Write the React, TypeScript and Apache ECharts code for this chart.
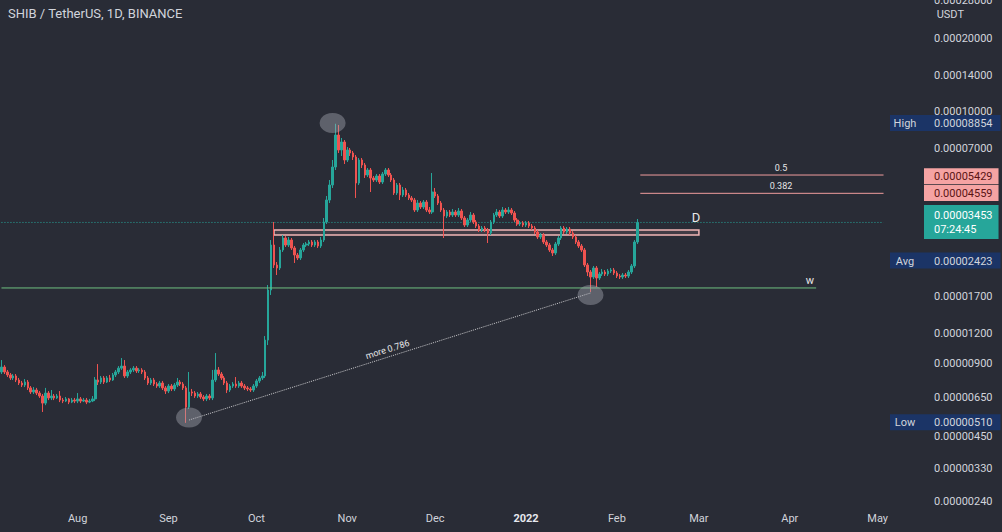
import React, { useEffect, useRef } from "react";
import * as echarts from "echarts";

// Prices below are in units of 1e-8 USDT (e.g. 829 = 0.00000829)
const UNIT = 1e-8;
const START_UTC = Date.UTC(2021, 6, 6);
const DAY_MS = 86400000;
const NUM_DAYS = 302;
const categories: string[] = [];
for (let i = 0; i < NUM_DAYS; i++) {
  categories.push(new Date(START_UTC + i * DAY_MS).toISOString().slice(0, 10));
}
const MONTHS = ["Jan", "Feb", "Mar", "Apr", "May", "Jun", "Jul", "Aug", "Sep", "Oct", "Nov", "Dec"];

const opens = [
  829, 869, 829, 806, 783, 798, 768, 746, 732, 753,
  712, 685, 698, 678, 659, 616, 678, 647, 659, 647,
  659, 634, 628, 641, 622, 634, 628, 641, 628, 634,
  622, 628, 641, 768, 753, 783, 753, 783, 768, 806,
  829, 860, 877, 798, 829, 845, 860, 837, 845, 829,
  783, 746, 768, 739, 725, 746, 712, 691, 725, 705,
  732, 753, 739, 712, 593, 685, 678, 659, 672, 653,
  641, 659, 647, 768, 845, 813, 783, 746, 698, 725,
  739, 725, 746, 725, 712, 705, 698, 725, 761, 783,
  798, 1124, 1812, 2784, 2301, 2236, 2655, 2977, 2784, 2920,
  2706, 2531, 2460, 2655, 2784, 2811, 2865, 2784, 2865, 2758,
  2920, 3467, 4277, 4936, 5861, 7953, 6893, 7440, 6265, 6893,
  6699, 6448, 5031, 6265, 5973, 5430, 5695, 5277, 5177, 5378,
  5079, 5482, 5695, 5430, 5177, 4573, 4936, 4487, 4706, 4487,
  4361, 4277, 3888, 4156, 4001, 4196, 3888, 3815, 4617, 4444,
  4156, 3888, 3672, 3815, 3707, 3815, 3707, 3851, 3603, 3369,
  3534, 3707, 3467, 3338, 3213, 3275, 3213, 3122, 3467, 3707,
  3815, 3672, 3888, 3815, 3888, 3778, 3534, 3402, 3434, 3369,
  3434, 3338, 3275, 3152, 3006, 3063, 2865, 2784, 2655, 2580,
  2811, 2977, 3275, 3152, 3243, 3122, 3006, 2865, 2758, 2655,
  2301, 2152, 2052, 2236, 2032, 2111, 2152, 2111, 2172, 2193,
  2131, 2071, 2052, 2091, 2071, 2152, 2279, 2865,
];

const closes = [
  869, 829, 806, 783, 798, 768, 746, 732, 753, 712,
  685, 698, 678, 659, 616, 678, 647, 659, 647, 659,
  634, 628, 641, 622, 634, 628, 641, 628, 634, 622,
  628, 641, 768, 753, 783, 753, 783, 768, 806, 829,
  860, 877, 798, 829, 845, 860, 837, 845, 829, 783,
  746, 768, 739, 725, 746, 712, 691, 725, 705, 732,
  753, 739, 712, 593, 685, 678, 659, 672, 653, 641,
  659, 647, 768, 845, 813, 783, 746, 698, 725, 739,
  725, 746, 725, 712, 705, 698, 725, 761, 783, 798,
  1124, 1812, 2784, 2301, 2236, 2655, 2977, 2784, 2920, 2706,
  2531, 2460, 2655, 2784, 2811, 2865, 2784, 2865, 2758, 2920,
  3467, 4277, 4936, 5861, 7953, 6893, 7440, 6265, 6893, 6699,
  6448, 5031, 6265, 5973, 5430, 5695, 5277, 5177, 5378, 5079,
  5482, 5695, 5430, 5177, 4573, 4936, 4487, 4706, 4487, 4361,
  4277, 3888, 4156, 4001, 4196, 3888, 3815, 4617, 4444, 4156,
  3888, 3672, 3815, 3707, 3815, 3707, 3851, 3603, 3369, 3534,
  3707, 3467, 3338, 3213, 3275, 3213, 3122, 3467, 3707, 3815,
  3672, 3888, 3815, 3888, 3778, 3534, 3402, 3434, 3369, 3434,
  3338, 3275, 3152, 3006, 3063, 2865, 2784, 2655, 2580, 2811,
  2977, 3275, 3152, 3243, 3122, 3006, 2865, 2758, 2655, 2301,
  2152, 2052, 2236, 2032, 2111, 2152, 2111, 2172, 2193, 2131,
  2071, 2052, 2091, 2071, 2152, 2279, 2865, 3453,
];

const lows = [
  813, 813, 790, 768, 768, 753, 732, 718, 718, 698,
  672, 672, 665, 647, 566, 604, 634, 634, 634, 641,
  622, 616, 622, 610, 616, 616, 616, 616, 622, 610,
  616, 622, 628, 732, 739, 739, 746, 753, 761, 790,
  813, 845, 783, 783, 813, 829, 821, 821, 813, 768,
  732, 732, 725, 712, 712, 698, 672, 678, 691, 691,
  718, 725, 698, 510, 582, 659, 647, 647, 641, 628,
  628, 634, 634, 753, 798, 768, 732, 678, 685, 712,
  712, 712, 712, 698, 691, 685, 685, 712, 746, 768,
  783, 1072, 1728, 2236, 2091, 2193, 2605, 2732, 2732, 2655,
  2345, 2413, 2413, 2605, 2732, 2758, 2732, 2732, 2706, 2706,
  2865, 3402, 4156, 4797, 5695, 6699, 6510, 6031, 6147, 6510,
  6265, 4361, 4936, 5805, 5277, 5328, 4617, 5079, 5079, 4983,
  4983, 5378, 5328, 5079, 4487, 4487, 4277, 4402, 4402, 4277,
  4196, 3815, 3815, 3925, 3925, 3815, 3743, 3743, 4361, 4078,
  3815, 2977, 3603, 3637, 3637, 3637, 3637, 3534, 3306, 3306,
  3467, 3402, 3275, 3152, 3152, 3152, 2838, 3063, 3402, 3637,
  3603, 3603, 3743, 3743, 3707, 3467, 3338, 3338, 3306, 3306,
  3275, 3213, 3093, 2949, 2949, 2811, 2732, 2605, 2507, 2531,
  2758, 2920, 3093, 3093, 3063, 2949, 2811, 2706, 2605, 2257,
  2071, 1778, 2013, 1865, 1994, 2071, 2071, 2071, 2131, 2091,
  2032, 2013, 2013, 2032, 2032, 2111, 2236, 2811,
];

const highs = [
  929, 885, 845, 821, 813, 813, 783, 761, 775, 768,
  725, 718, 712, 691, 672, 712, 691, 698, 672, 672,
  691, 647, 653, 647, 647, 647, 678, 653, 647, 647,
  641, 659, 790, 894, 798, 798, 798, 806, 821, 845,
  877, 947, 929, 845, 860, 877, 877, 860, 860, 845,
  798, 783, 783, 753, 761, 761, 725, 739, 739, 746,
  783, 768, 753, 725, 829, 705, 691, 685, 685, 665,
  672, 672, 845, 993, 869, 829, 798, 761, 739, 753,
  790, 761, 761, 739, 725, 718, 739, 775, 798, 829,
  1168, 1901, 2920, 3467, 2367, 2732, 3063, 3034, 3006, 2977,
  2758, 2580, 2706, 2838, 2865, 2920, 2920, 2920, 2920, 3006,
  3603, 4444, 5177, 6265, 8854, 8749, 7730, 7583, 7094, 7026,
  6828, 6572, 6387, 6387, 6088, 5805, 5805, 5378, 5482, 5482,
  5587, 5805, 5805, 5534, 5277, 5031, 5031, 4843, 4797, 4573,
  4444, 4361, 4277, 4236, 4277, 4277, 4001, 5534, 4797, 4530,
  4236, 3963, 3888, 3888, 3925, 3888, 3963, 3925, 3672, 3603,
  3815, 3778, 3534, 3402, 3338, 3338, 3275, 3534, 3778, 3925,
  3888, 4001, 3963, 4001, 3963, 3851, 3603, 3500, 3500, 3500,
  3500, 3402, 3338, 3213, 3122, 3122, 2920, 2838, 2706, 2865,
  3034, 3338, 3338, 3306, 3306, 3182, 3063, 2920, 2811, 2706,
  2345, 2193, 2279, 2279, 2152, 2215, 2193, 2215, 2236, 2236,
  2172, 2111, 2131, 2131, 2193, 2323, 2920, 3568,
];

// Axis tick labels (prices)
const yTickPrices = [0.00028, 0.0002, 0.00014, 0.0001, 0.00007, 0.000017, 0.000012, 0.000009, 0.0000065, 0.0000045, 0.0000033, 0.0000024];
const Y_MIN_PRICE = 0.000002264;
const Y_MAX_PRICE = 0.0002884;

// Annotation levels
const HIGH_PRICE = 0.00008854;
const LOW_PRICE = 0.0000051;
const AVG_PRICE = 0.00002423;
const LAST_PRICE = 0.00003453;
const LAST_TIMER = "07:24:45";
const FIB_LEVELS = [
  { name: "0.5", price: 0.00005429 },
  { name: "0.382", price: 0.00004559 },
];
const FIB_LABEL_FROM_IDX = 231;
const W_PRICE = 0.00001848;
const W_END_IDX = 278;
const BOX_TOP_PRICE = 0.00003213;
const BOX_BOTTOM_PRICE = 0.00003063;
const BOX_START_IDX = 93;
const BOX_END_IDX = 238;
const D_IDX = 237;
const D_PRICE = 0.00003603;
const TREND_START = { idx: 64, price: 0.00000524 };
const TREND_END = { idx: 201, price: 0.00001761 };
const CIRCLES = [
  { idx: 113, price: 0.00008918 },
  { idx: 64, price: 0.00000537 },
  { idx: 201, price: 0.00001728 },
];

const BG = "#292c36";
const UP = "#26a69a";
const DOWN = "#ef5350";
const TEXT = "#d1d4dc";
const FIB_COLOR = "#f09c9c";
const W_COLOR = "#6fbf80";
const TREND_COLOR = "#c9c9cc";
const FONT = "Roboto, 'Noto Sans', sans-serif";
const CLEAR = "rgba(0,0,0,0)";

const L = (p: number) => Math.log10(p);

function buildOption() {
  const candleData = closes.map((c, i) => [
    L(opens[i] * UNIT),
    L(c * UNIT),
    L(lows[i] * UNIT),
    L(highs[i] * UNIT),
  ]);
  const lastIdx = NUM_DAYS - 1;
  const fibStart = candleData.length;
  const topTick = yTickPrices[0];

  const segment = (name: string, pts: [number, number][], color: string, type: any, z = 4) => ({
    type: "line",
    name,
    data: pts.map(([i, p]) => [categories[i], L(p)]),
    symbol: "none",
    silent: true,
    clip: false,
    z,
    lineStyle: { color, type, width: 1 },
    itemStyle: { color },
  });

  const navyLabel = (name: string, price: number) => ({
    show: true,
    position: "end",
    distance: 5,
    formatter: `{n|${name}}{v|${price.toFixed(8)}}`,
    backgroundColor: "#1b3466",
    padding: [3, 8, 2, 4],
    rich: {
      n: { width: 22, align: "right", color: TEXT, fontSize: 11, fontFamily: FONT },
      v: { padding: [0, 0, 0, 18], color: TEXT, fontSize: 11, fontFamily: FONT },
    },
  });

  const smallLabel = (text: string, position: string, size: number) => ({
    show: true,
    position,
    formatter: text,
    color: "#e6e6e6",
    fontSize: size,
    fontFamily: FONT,
    distance: 3,
  });

  const hidden = { color: CLEAR, width: 1 };

  // All texts attached to the levels (lines themselves are transparent here)
  const labelSeries = {
    type: "line",
    name: "labels",
    data: [],
    silent: true,
    z: 10,
    markLine: {
      silent: true,
      symbol: ["none", "none"],
      lineStyle: hidden,
      data: [
        [
          { coord: [categories[TREND_START.idx], L(TREND_START.price)], label: smallLabel("more 0.786", "insideMiddleTop", 9) },
          { coord: [categories[TREND_END.idx], L(TREND_END.price)] },
        ],
        [
          { coord: [categories[0], L(W_PRICE)], label: { ...smallLabel("w", "insideEndTop", 11), distance: 2 } },
          { coord: [categories[W_END_IDX], L(W_PRICE)] },
        ],
        ...FIB_LEVELS.map((f) => [
          { coord: [categories[FIB_LABEL_FROM_IDX], L(f.price)], label: smallLabel(f.name, "insideMiddleTop", 9) },
          { coord: [categories[lastIdx], L(f.price)] },
        ]),
        ...FIB_LEVELS.map((f) => ({
          yAxis: L(f.price),
          label: {
            show: true,
            position: "end",
            distance: 39,
            formatter: f.price.toFixed(8),
            backgroundColor: "#f5a3a3",
            color: "#5a1414",
            fontSize: 11,
            fontFamily: FONT,
            padding: [3, 6, 2, 10],
          },
        })),
        {
          yAxis: L(LAST_PRICE),
          label: {
            show: true,
            position: "end",
            distance: 39,
            formatter: `${LAST_PRICE.toFixed(8)}\n${LAST_TIMER}`,
            backgroundColor: UP,
            color: "#ffffff",
            fontSize: 11,
            lineHeight: 14,
            fontFamily: FONT,
            padding: [3, 6, 3, 10],
          },
        },
        { yAxis: L(HIGH_PRICE), label: navyLabel("High", HIGH_PRICE) },
        { yAxis: L(AVG_PRICE), label: navyLabel("Avg", AVG_PRICE) },
        { yAxis: L(LOW_PRICE), label: navyLabel("Low", LOW_PRICE) },
      ],
    },
  };

  const markPointData: any[] = [
    ...CIRCLES.map((c) => ({
      coord: [categories[c.idx], L(c.price)],
      symbol: "circle",
      symbolSize: [26, 20],
      itemStyle: { color: "rgba(170,172,180,0.42)" },
      label: { show: false },
    })),
    {
      coord: [categories[D_IDX], L(D_PRICE)],
      symbol: "circle",
      symbolSize: 1,
      itemStyle: { color: CLEAR },
      label: {
        show: true,
        position: "inside",
        formatter: "D",
        color: "#e8e8e8",
        fontSize: 13,
        fontFamily: FONT,
      },
    },
  ];

  return {
    animation: false,
    backgroundColor: BG,
    title: {
      text: "SHIB / TetherUS, 1D, BINANCE",
      left: 8,
      top: 7,
      padding: 0,
      textStyle: { color: TEXT, fontSize: 13, fontWeight: "normal", fontFamily: FONT },
    },
    graphic: [
      {
        type: "text",
        right: 38,
        top: 9,
        style: { text: "USDT", fill: TEXT, font: `11px ${FONT}` },
      },
    ],
    grid: { left: 0, right: 117, top: 0, bottom: 24, outerBoundsMode: "none", containLabel: false },
    xAxis: {
      type: "category",
      data: categories,
      boundaryGap: true,
      axisLine: { show: false },
      axisTick: { show: false },
      splitLine: { show: false },
      axisLabel: {
        interval: (_i: number, v: string) => v.slice(8) === "01",
        formatter: (v: string) => {
          const m = +v.slice(5, 7);
          return m === 1 ? `{y|${v.slice(0, 4)}}` : MONTHS[m - 1];
        },
        color: TEXT,
        fontSize: 11,
        fontFamily: FONT,
        margin: 5,
        rich: { y: { fontWeight: "bold", color: "#e6e8ee", fontSize: 11, fontFamily: FONT } },
      },
    },
    yAxis: {
      type: "value",
      position: "right",
      min: L(Y_MIN_PRICE),
      max: L(Y_MAX_PRICE),
      axisLine: { show: false },
      axisTick: { show: false },
      splitLine: { show: false },
      axisLabel: {
        customValues: yTickPrices.map(L),
        formatter: (v: number) => {
          const p = Math.pow(10, v);
          const s = p.toFixed(8);
          return Math.abs(p - topTick) / topTick < 1e-6 ? `{t|${s}}` : s;
        },
        color: TEXT,
        fontSize: 11,
        fontFamily: FONT,
        margin: 49,
        rich: { t: { color: TEXT, fontSize: 11, fontFamily: FONT, padding: [0, 0, 5, 0] } },
      },
    },
    series: [
      {
        type: "candlestick",
        data: candleData,
        barWidth: "70%",
        z: 3,
        itemStyle: { color: UP, color0: DOWN, borderColor: UP, borderColor0: DOWN, borderWidth: 1 },
        markArea: {
          silent: true,
          data: [
            [
              {
                coord: [categories[BOX_START_IDX], L(BOX_TOP_PRICE)],
                itemStyle: { color: "rgba(242,179,179,0.12)", borderColor: "#f2b6b6", borderWidth: 1.5 },
              },
              { coord: [categories[BOX_END_IDX], L(BOX_BOTTOM_PRICE)] },
            ],
          ],
        },
        markPoint: {
          silent: true,
          data: markPointData,
        },
      },
      segment("trend", [[TREND_START.idx, TREND_START.price], [TREND_END.idx, TREND_END.price]], TREND_COLOR, "dotted"),
      segment("w", [[0, W_PRICE], [W_END_IDX, W_PRICE]], W_COLOR, "solid"),
      ...FIB_LEVELS.map((f) => segment("fib " + f.name, [[fibStart, f.price], [lastIdx, f.price]], FIB_COLOR, "solid")),
      segment("last", [[0, LAST_PRICE], [lastIdx, LAST_PRICE]], UP, [1, 2], 2),
      labelSeries,
    ],
  };
}

export default function App() {
  const ref = useRef<HTMLDivElement>(null);
  useEffect(() => {
    if (!ref.current) return;
    const chart = echarts.init(ref.current, null, { renderer: "svg" });
    chart.setOption(buildOption() as any);
    return () => chart.dispose();
  }, []);
  return (
    <div
      ref={ref}
      style={{ position: "fixed", left: 0, top: 0, width: 1002, height: 532, background: BG }}
    />
  );
}
